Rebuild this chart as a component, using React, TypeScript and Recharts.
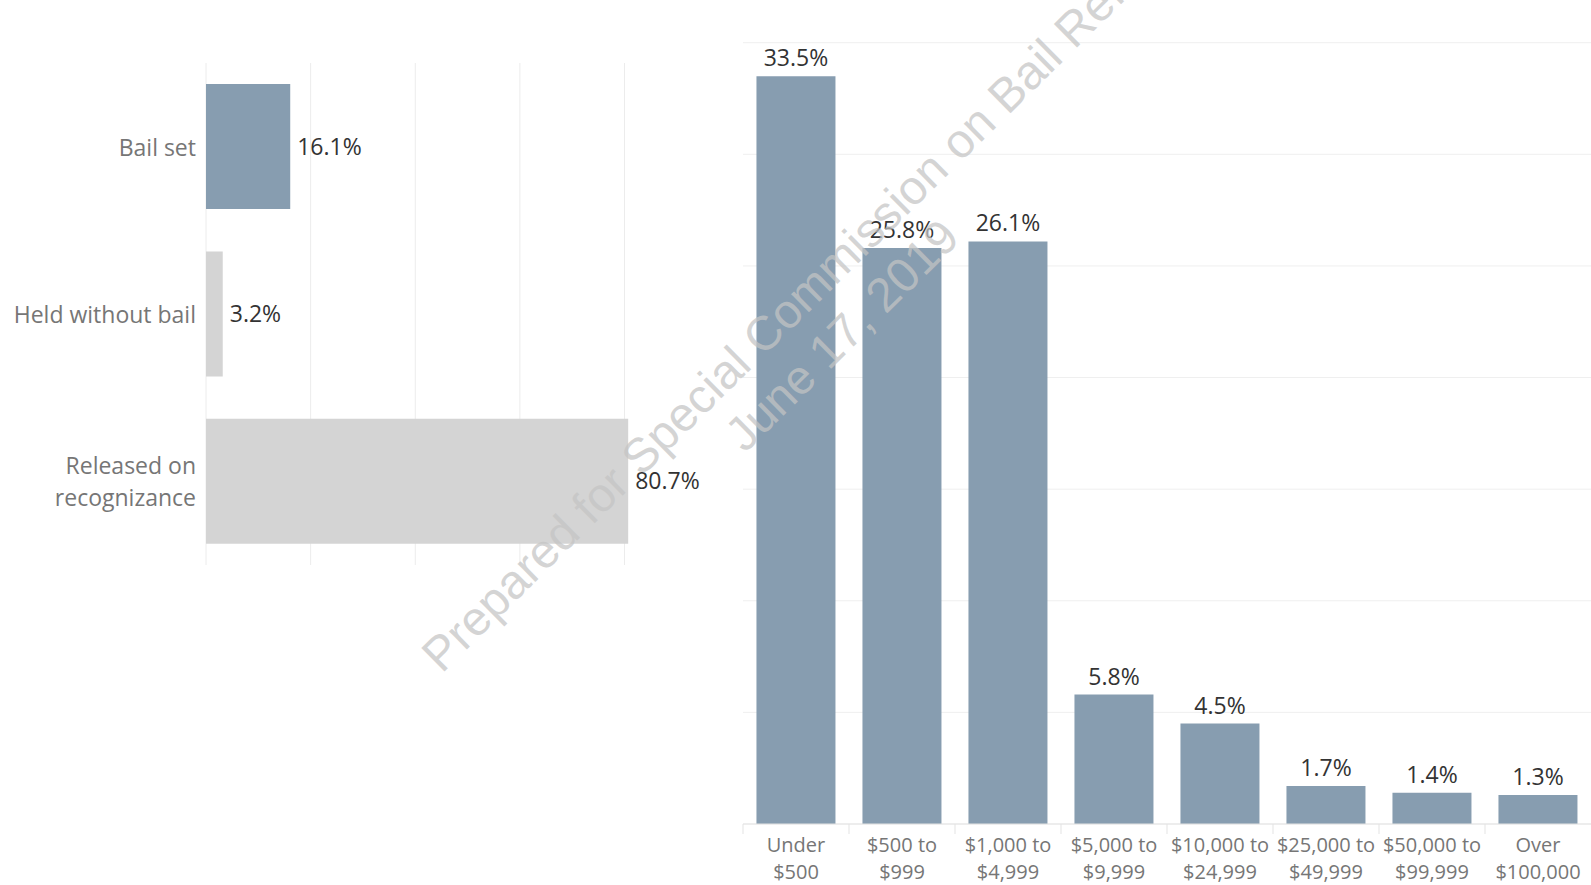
import { BarChart, Bar, XAxis, YAxis, CartesianGrid, LabelList, Cell } from 'recharts'

const outcomeNames = ['Bail set', 'Held without bail', 'Released on\nrecognizance']
const outcomeShares = [16.1, 3.2, 80.7]
const outcomeColors = ['#879db0', '#d4d4d4', '#d4d4d4']
const outcomeTicks = [0, 20, 40, 60, 80]

const bailNames = [
  'Under\n$500',
  '$500 to\n$999',
  '$1,000 to\n$4,999',
  '$5,000 to\n$9,999',
  '$10,000 to\n$24,999',
  '$25,000 to\n$49,999',
  '$50,000 to\n$99,999',
  'Over\n$100,000'
]
const bailShares = [33.5, 25.8, 26.1, 5.8, 4.5, 1.7, 1.4, 1.3]
const bailTicks = [0, 5, 10, 15, 20, 25, 30, 35]

const watermarkLines = ['Prepared for Special Commission on Bail Reform', 'June 17, 2019']

const font = '"Open Sans", sans-serif'
const barBlue = '#879db0'

const outcomeData = outcomeNames.map((name, i) => ({ name, value: outcomeShares[i] }))
const bailData = bailNames.map((name, i) => ({ name, value: bailShares[i] }))

const pct = (v: any) => `${v}%`
const noTick = () => <g />

function OutcomeTick({ x, y, payload }: any) {
  const lines = String(payload.value).split('\n')
  const lineHeight = 32
  const top = y - ((lines.length - 1) * lineHeight) / 2
  return (
    <text
      x={x}
      y={top}
      textAnchor="end"
      dominantBaseline="central"
      fill="#767676"
      fontSize={23}
      fontFamily={font}
    >
      {lines.map((line, i) => (
        <tspan key={i} x={x} dy={i === 0 ? 0 : lineHeight}>
          {line}
        </tspan>
      ))}
    </text>
  )
}

function BailTick({ x, y, payload }: any) {
  const lines = String(payload.value).split('\n')
  const half = payload.offset || 53
  return (
    <g>
      <line x1={x - half} x2={x - half} y1={y} y2={y + 10} stroke="#e3e3e3" />
      <text
        x={x}
        y={y + 20}
        textAnchor="middle"
        dominantBaseline="central"
        fill="#767676"
        fontSize={20}
        fontFamily={font}
      >
        {lines.map((line, i) => (
          <tspan key={i} x={x} dy={i === 0 ? 0 : 27}>
            {line}
          </tspan>
        ))}
      </text>
    </g>
  )
}

function Watermark() {
  return (
    <svg
      width={1591}
      height={885}
      style={{ position: 'absolute', left: 0, top: 0, pointerEvents: 'none' }}
    >
      <g transform="translate(814 307) rotate(-44.6)">
        {watermarkLines.map((line, i) => (
          <text
            key={i}
            x={0}
            y={i * 56}
            textAnchor="middle"
            fill="#c4c4c4"
            fillOpacity={0.72}
            fontSize={48}
            fontFamily='"Liberation Sans", Arial, sans-serif'
          >
            {line}
          </text>
        ))}
      </g>
    </svg>
  )
}

export default function App() {
  return (
    <div
      style={{
        position: 'absolute',
        left: 0,
        top: 0,
        width: 1591,
        height: 885,
        background: '#fff',
        overflow: 'hidden',
        fontFamily: font
      }}
    >
      <div style={{ position: 'absolute', left: 0, top: 0 }}>
        <BarChart
          width={720}
          height={610}
          data={outcomeData}
          layout="vertical"
          margin={{ top: 63, right: 17, bottom: 45, left: 0 }}
          barCategoryGap="12.6%"
        >
          <CartesianGrid horizontal={false} stroke="#ececec" syncWithTicks />
          <XAxis
            type="number"
            domain={[0, 95]}
            ticks={outcomeTicks}
            height={0}
            tick={noTick}
            tickLine={false}
            axisLine={false}
          />
          <YAxis
            type="category"
            dataKey="name"
            width={206}
            axisLine={false}
            tickLine={false}
            tickSize={0}
            tickMargin={10}
            interval={0}
            tick={<OutcomeTick />}
          />
          <Bar dataKey="value" isAnimationActive={false}>
            {outcomeData.map((d, i) => (
              <Cell key={d.name} fill={outcomeColors[i]} />
            ))}
            <LabelList
              dataKey="value"
              position="right"
              offset={7}
              formatter={pct}
              fill="#333"
              fontSize={23}
              fontFamily={font}
            />
          </Bar>
        </BarChart>
      </div>
      <div style={{ position: 'absolute', left: 700, top: 0 }}>
        <BarChart
          width={891}
          height={885}
          data={bailData}
          margin={{ top: 7, right: 0, bottom: 0, left: 43 }}
          barCategoryGap="12.7%"
        >
          <CartesianGrid vertical={false} stroke="#efefef" syncWithTicks />
          <XAxis
            dataKey="name"
            height={61}
            interval={0}
            tickLine={false}
            tickSize={0}
            tickMargin={0}
            axisLine={{ stroke: '#e3e3e3' }}
            tick={<BailTick />}
          />
          <YAxis
            type="number"
            domain={[0, 36.6]}
            ticks={bailTicks}
            width={0}
            tick={noTick}
            tickLine={false}
            axisLine={{ stroke: '#e6e6e6' }}
          />
          <Bar dataKey="value" fill={barBlue} isAnimationActive={false}>
            <LabelList
              dataKey="value"
              position="top"
              offset={10}
              formatter={pct}
              fill="#333"
              fontSize={23}
              fontFamily={font}
            />
          </Bar>
        </BarChart>
      </div>
      <Watermark />
    </div>
  )
}
